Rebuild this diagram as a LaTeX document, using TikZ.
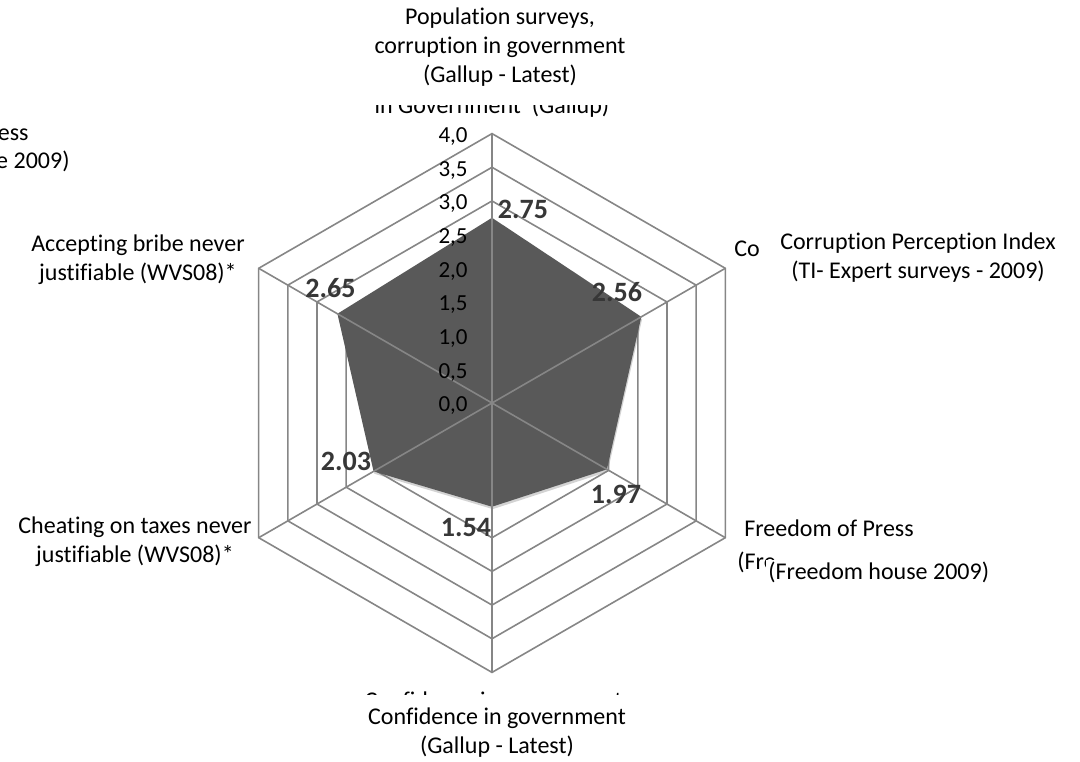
\documentclass[tikz,border=0pt]{standalone}
\usepackage{fontspec}
\setmainfont{Carlito}[Ligatures=NoCommon]
\usepackage{tikz}
\usetikzlibrary{positioning,shadows,calc}

\definecolor{gridgray}{RGB}{134,134,134}
\definecolor{areagray}{RGB}{89,89,89}
\definecolor{valgray}{RGB}{55,55,55}
\newcommand{\unitpx}{67.35}

\begin{document}
\begin{tikzpicture}
[x=0.5pt,y=0.5pt,
 every node/.style={inner sep=0pt,font=\fontsize{12}{14.5}\selectfont},
 ring/.style={draw=gridgray,line width=0.8pt,line join=miter},
 spoke/.style={draw=gridgray,line width=0.8pt},
 area/.style={fill=areagray,drop shadow={opacity=0.35,shadow xshift=0.4pt,shadow yshift=-1.2pt}},
 ticklbl/.style={anchor=east,font=\fontsize{11.5}{13}\selectfont},
 value/.style={font=\fontsize{14}{16}\bfseries\selectfont,text=valgray},
 cat/.style={align=center}]

\path[use as bounding box,clip] (-492,-358) rectangle (588,403);
\coordinate (o) at (0,0);

% hexagon rings
\foreach \r in {1,...,8}
  \draw[ring] (90:{\r*\unitpx/2}) -- (30:{\r*\unitpx/2}) -- (-30:{\r*\unitpx/2})
    -- (-90:{\r*\unitpx/2}) -- (210:{\r*\unitpx/2}) -- (150:{\r*\unitpx/2}) -- cycle;

% data
\foreach \ang/\val/\nm in {90/2.75/vpop,30/2.56/vcpi,-30/1.97/vfop,-90/1.54/vconf,210/2.03/vtax,150/2.65/vbribe}
  \coordinate (\nm) at (\ang:{\val*\unitpx});
\fill[area] (vpop) -- (vcpi) -- (vfop) -- (vconf) -- (vtax) -- (vbribe) -- cycle;

% spokes
\foreach \ang in {90,30,-30,-90,210,150}
  \draw[spoke] (o) -- (\ang:{4*\unitpx});

% axis labels
\foreach \i/\txt in {0/{0,0},1/{0,5},2/{1,0},3/{1,5},4/{2,0},5/{2,5},6/{3,0},7/{3,5},8/{4,0}}
  \node[ticklbl] (t\i) at (-24,{\i*\unitpx/2-3}) {\txt};

% values
\node[value] (lpop) at (31,193.5) {2.75};
\node[value] (lcpi) at (125,111) {2.56};
\node[value] (lfop) at (124,-91) {1.97};
\node[value] (lconf) at (-26,-124) {1.54};
\node[value] (ltax) at (-146,-58) {2.03};
\node[value] (lbribe) at (-161.5,115) {2.65};

% categories
\node[cat] (pop) at (8,356) {Population surveys,\\corruption in government\\(Gallup - Latest)};
\begin{scope}
\clip (-130,298) rectangle (130,282);
\node[anchor=base] (popold) at (0,290) {in Government\ \ (Gallup)};
\end{scope}

\node (co) at (255,154) {Co};
\node[cat] (cpi) at (426,145.5) {Corruption Perception Index\\(TI- Expert surveys - 2009)};

\node (press) at (337,-125) {Freedom of Press};
\node[anchor=west] (fre) at (245,-159) {(Fre};
\node[anchor=west,fill=white,inner sep=1pt] (fh) at (274,-169) {(Freedom house 2009)};

\begin{scope}
\clip (-130,-286) rectangle (130,-291);
\node[anchor=base] (confold) at (1.5,-305) {Confidence in government};
\end{scope}
\node[cat] (conf) at (5,-329.5) {Confidence in government\\(Gallup - Latest)};

\node[cat] (tax) at (-357,-138.5) {Cheating on taxes never\\justifiable (WVS08)*};
\node[cat,anchor=east] (bribe) at (-247,143) {Accepting bribe never\\justifiable (WVS08)*};

\node[anchor=base east] (pressold) at (-463,263) {Freedom of Press};
\node[anchor=base east] (fhold) at (-422,235) {(Freedom house 2009)};
\end{tikzpicture}
\end{document}
